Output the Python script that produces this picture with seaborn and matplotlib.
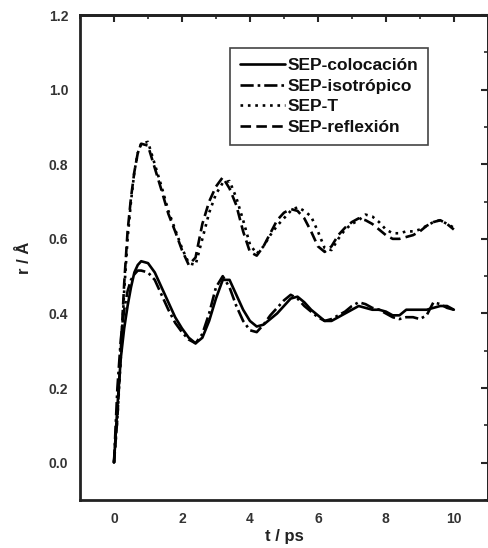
import numpy as np
import pandas as pd
import matplotlib
matplotlib.use("Agg")
import matplotlib.pyplot as plt
from matplotlib.ticker import MultipleLocator
import seaborn as sns

# time axis (ps)
t = [0, 0.1, 0.2, 0.3, 0.4, 0.5, 0.6, 0.7, 0.8, 1.0, 1.2, 1.4, 1.6, 1.8, 2.0,
     2.2, 2.4, 2.6, 2.8, 3.0, 3.2, 3.4, 3.6, 3.8, 4.0, 4.2, 4.4, 4.6, 4.8, 5.0,
     5.2, 5.4, 5.6, 5.8, 6.0, 6.2, 6.4, 6.6, 6.8, 7.0, 7.2, 7.4, 7.6, 7.8, 8.0,
     8.2, 8.4, 8.6, 8.8, 9.0, 9.2, 9.4, 9.6, 9.8, 10.0]

colocacion = [0, 0.15, 0.28, 0.36, 0.42, 0.47, 0.51, 0.53, 0.54, 0.535, 0.51,
              0.47, 0.43, 0.39, 0.36, 0.335, 0.32, 0.335, 0.38, 0.44, 0.49,
              0.49, 0.45, 0.41, 0.38, 0.365, 0.37, 0.385, 0.40, 0.42, 0.44,
              0.445, 0.43, 0.41, 0.395, 0.38, 0.38, 0.39, 0.40, 0.41, 0.42,
              0.415, 0.41, 0.41, 0.405, 0.395, 0.395, 0.41, 0.41, 0.41, 0.41,
              0.415, 0.42, 0.42, 0.41]

isotropico = [0, 0.2, 0.33, 0.41, 0.46, 0.49, 0.505, 0.515, 0.515, 0.51, 0.49,
              0.45, 0.41, 0.375, 0.35, 0.33, 0.32, 0.345, 0.40, 0.47, 0.50,
              0.47, 0.42, 0.38, 0.355, 0.35, 0.37, 0.395, 0.415, 0.435, 0.45,
              0.44, 0.42, 0.405, 0.39, 0.38, 0.385, 0.395, 0.405, 0.42, 0.43,
              0.425, 0.415, 0.41, 0.40, 0.39, 0.385, 0.39, 0.39, 0.385, 0.395,
              0.43, 0.425, 0.415, 0.41]

sep_t = [0, 0.12, 0.28, 0.46, 0.60, 0.70, 0.78, 0.83, 0.855, 0.86, 0.80,
         0.74, 0.675, 0.625, 0.575, 0.535, 0.53, 0.60, 0.67, 0.72, 0.75,
         0.755, 0.71, 0.65, 0.585, 0.56, 0.58, 0.61, 0.635, 0.655, 0.675,
         0.685, 0.675, 0.66, 0.62, 0.575, 0.57, 0.60, 0.625, 0.64, 0.65,
         0.665, 0.66, 0.645, 0.625, 0.615, 0.615, 0.62, 0.62, 0.625, 0.635,
         0.645, 0.65, 0.64, 0.63]

reflexion = [0, 0.12, 0.30, 0.48, 0.62, 0.71, 0.78, 0.83, 0.855, 0.85, 0.79,
             0.73, 0.667, 0.62, 0.57, 0.53, 0.55, 0.64, 0.70, 0.74, 0.765,
             0.735, 0.69, 0.62, 0.565, 0.555, 0.58, 0.615, 0.65, 0.67, 0.68,
             0.675, 0.655, 0.62, 0.58, 0.565, 0.58, 0.61, 0.63, 0.645, 0.655,
             0.65, 0.64, 0.625, 0.61, 0.60, 0.60, 0.605, 0.61, 0.62, 0.635,
             0.645, 0.65, 0.64, 0.625]

labels = ["SEP-colocación", "SEP-isotrópico", "SEP-T", "SEP-reflexión"]

frames = []
for name, vals in zip(labels, [colocacion, isotropico, sep_t, reflexion]):
    frames.append(pd.DataFrame({"t": t, "r": vals, "serie": name}))
df = pd.concat(frames, ignore_index=True)

sns.set_style("white")
plt.rcParams["font.family"] = ["Liberation Sans", "DejaVu Sans"]

fig = plt.figure(figsize=(4.89, 5.48), dpi=100)
ax = fig.add_axes([0.1636, 0.0876, 0.834, 0.885])

dash_styles = {
    "SEP-colocación": "",
    "SEP-isotrópico": (5, 1.5, 1, 1.5),
    "SEP-T": (1, 1.8),
    "SEP-reflexión": (4, 2),
}
sns.lineplot(data=df, x="t", y="r", hue="serie", style="serie",
             palette=["black"] * 4, dashes=dash_styles, linewidth=1.9,
             sort=False, ax=ax, legend=True)

ax.set_xlim(-1, 11)
ax.set_ylim(-0.1, 1.2)
ax.set_xticks([0, 2, 4, 6, 8, 10])
ax.set_yticks([0.0, 0.2, 0.4, 0.6, 0.8, 1.0, 1.2])
ax.set_yticklabels(["0.0", "0.2", "0.4", "0.6", "0.8", "1.0", "1.2"])
ax.xaxis.set_minor_locator(MultipleLocator(1))
ax.yaxis.set_minor_locator(MultipleLocator(0.1))
ax.tick_params(which="major", direction="out", length=5, width=1.5,
               labelsize=10, colors="#333333")
ax.tick_params(which="minor", direction="out", length=3, width=1.2)
for lab in ax.get_xticklabels() + ax.get_yticklabels():
    lab.set_fontweight("bold")

# inward ticks on the top and right, Origin style
top = ax.secondary_xaxis("top")
top.set_xticks([0, 2, 4, 6, 8, 10])
top.xaxis.set_minor_locator(MultipleLocator(1))
top.tick_params(which="major", direction="in", length=5, width=1.5, labeltop=False)
top.tick_params(which="minor", direction="in", length=3, width=1.2)
right = ax.secondary_yaxis("right")
right.set_yticks([0.0, 0.2, 0.4, 0.6, 0.8, 1.0, 1.2])
right.yaxis.set_minor_locator(MultipleLocator(0.1))
right.tick_params(which="major", direction="in", length=5, width=1.5, labelright=False)
right.tick_params(which="minor", direction="in", length=3, width=1.2)

for sp in ax.spines.values():
    sp.set_linewidth(2)
    sp.set_color("#222222")
for s in (top, right):
    for sp in s.spines.values():
        sp.set_linewidth(2)
        sp.set_color("#222222")

ax.set_xlabel("t / ps", fontsize=12, fontweight="bold", color="#222222", labelpad=2)
ax.set_ylabel("r / Å", fontsize=12, fontweight="bold", color="#222222", labelpad=12)

leg = ax.legend(loc="upper right", bbox_to_anchor=(0.853, 0.932),
                borderaxespad=0, fontsize=12.5, handlelength=2.6,
                handletextpad=0.15, labelspacing=0.33, borderpad=0.55,
                fancybox=False, edgecolor="#444444", framealpha=1, title=None)
leg.get_frame().set_linewidth(1.2)
for txt in leg.get_texts():
    txt.set_fontweight("bold")
    txt.set_color("#111111")

fig.savefig("out.png", dpi=100)
